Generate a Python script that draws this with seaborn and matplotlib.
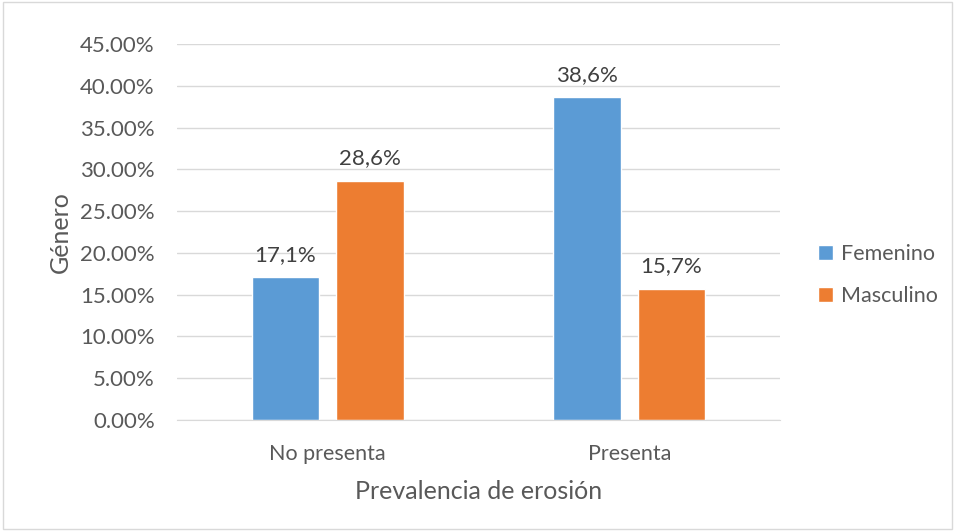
import matplotlib
matplotlib.use("Agg")
import matplotlib.pyplot as plt
from matplotlib.patches import Rectangle
from matplotlib.ticker import PercentFormatter
import pandas as pd
import seaborn as sns

categorias = ["No presenta", "Presenta"]
generos = ["Femenino", "Masculino"]
femenino = [0.171, 0.386]
masculino = [0.286, 0.157]
etiquetas = [["17,1%", "38,6%"], ["28,6%", "15,7%"]]
colores = ["#5B9BD5", "#ED7D31"]
texto = "#595959"

df = pd.DataFrame({
    "categoria": categorias * 2,
    "genero": [generos[0]] * 2 + [generos[1]] * 2,
    "valor": femenino + masculino,
})

sns.set_style("white")
plt.rcParams["font.family"] = ["Lato", "DejaVu Sans"]

fig = plt.figure(figsize=(9.55, 5.31), dpi=100)
ax = fig.add_axes([0.1853, 0.2090, 0.6315, 0.7081])

sns.barplot(data=df, x="categoria", y="valor", hue="genero", palette=colores,
            width=0.56, gap=0.2, ax=ax, saturation=1, legend=True)

ax.set_ylim(0, 0.45)
ax.set_yticks([i * 0.05 for i in range(10)])
ax.yaxis.set_major_formatter(PercentFormatter(1.0, decimals=2))
ax.grid(axis="y", color="#D9D9D9", linewidth=1)
ax.set_axisbelow(True)
for s in ["top", "right", "left"]:
    ax.spines[s].set_visible(False)
ax.spines["bottom"].set_color("#D9D9D9")
ax.tick_params(axis="y", length=0, labelsize=16, colors=texto, pad=16)
ax.tick_params(axis="x", length=0, labelsize=15.5, colors=texto, pad=17)

for cont, labs in zip(ax.containers, etiquetas):
    ax.bar_label(cont, labels=labs, padding=9, fontsize=16, color="#404040")

ax.set_xlabel("Prevalencia de erosión", fontsize=18, color=texto, labelpad=12)
ax.set_ylabel("Género", fontsize=18, color=texto, labelpad=6)

ax.legend(loc="center left", bbox_to_anchor=(1.03, 0.386), frameon=False,
          fontsize=15.5, labelcolor=texto, handlelength=0.7, handleheight=0.7,
          handletextpad=0.4, labelspacing=1.05)

fig.patches.append(Rectangle((0.003, 0.003), 0.994, 0.994, transform=fig.transFigure,
                             fill=False, edgecolor="#D9D9D9", linewidth=1))

fig.savefig("out.png", dpi=100)
